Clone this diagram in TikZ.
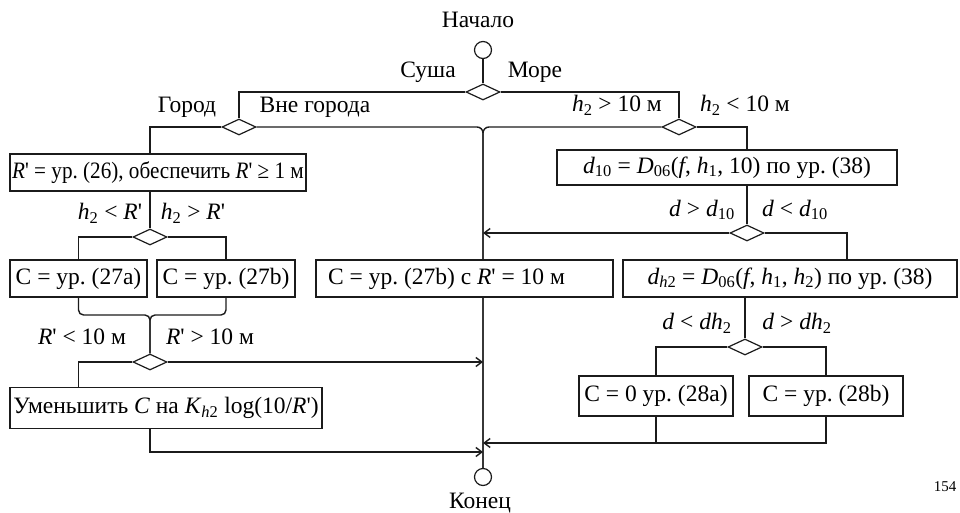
\documentclass[tikz,border=0pt]{standalone}
\usepackage{fontspec}
\setmainfont{Liberation Serif}
\usepackage{tikz}
\usetikzlibrary{positioning,arrows.meta,shapes.geometric,backgrounds}
\definecolor{cInk}{HTML}{1B1B1B}
\newcommand{\vr}[1]{\textit{#1}}
\newcommand{\ix}[1]{\textsubscript{#1}}
\newcommand{\Rpr}{\vr{R}\textquotesingle}
\frenchspacing
\tikzset{
  blk/.style={draw=cInk, line width=1.5pt, fill=white, minimum height=37pt,
              inner sep=2pt},
  dia/.style={diamond, draw=cInk, line width=1.2pt, fill=white, aspect=2,
              minimum width=34pt, minimum height=16pt, inner sep=0pt},
  term/.style={circle, draw=cInk, line width=1.2pt, fill=white,
               minimum size=17pt, inner sep=0pt},
  ln/.style={cInk, line width=1.4pt},
  ar/.style={ln, -{Straight Barb[length=6pt,width=9pt]}},
  lbl/.style={inner sep=1pt}
}

\begin{document}
\begin{tikzpicture}[x=1pt, y=-1pt, every node/.style={font=\fontsize{23.5}{26}\selectfont}]
\useasboundingbox (0,0) rectangle (960,513);
% start and first split
\node[term] (start) at (483,50) {};
\node (tstart) at (478,20) {Начало};
\node[dia] (ds) at (483,92) {};
\node[dia] (dg) at (239,127) {};
\node[dia] (dm) at (679,127) {};
% land, city branch
\node[blk, minimum width=296pt] (br) at (158,172.5)
  {\scalebox{0.9}[1]{\Rpr{} = ур. (26), обеспечить \Rpr{} ≥ 1 м}};
\node[dia] (dh) at (150,237) {};
\node[blk, minimum width=137pt] (b27a) at (78.5,278.5) {C = ур. (27a)};
\node[blk, minimum width=138pt] (b27b) at (226,278.5) {C = ур. (27b)};
\node[dia] (dr) at (150,362) {};
\node[blk, minimum width=312pt, minimum height=41pt] (bu) at (166,408)
  {Уменьшить \vr{C} на \vr{K}\ix{\vr{h}2} log(10/\Rpr)};
% outside city
\node[blk, minimum width=297pt] (b27c) at (464.5,278.5)
  {C = ур. (27b) с \Rpr{} = 10 м\kern36pt};
% sea branch
\node[blk, minimum width=340pt, minimum height=35pt] (b10) at (727,167.5)
  {\vr{d}\ix{10} = \vr{D}\ix{06}(\vr{f}, \vr{h}\ix{1}, 10) по ур. (38)};
\node[dia] (dd) at (747,233) {};
\node[blk, minimum width=334pt] (bh2) at (790,278.5)
  {\vr{d}\ix{\vr{h}2} = \vr{D}\ix{06}(\vr{f}, \vr{h}\ix{1}, \vr{h}\ix{2}) по ур. (38)};
\node[dia] (dq) at (745,347) {};
\node[blk, minimum width=154pt, minimum height=40pt] (b28a) at (656,396) {C = 0 ур. (28a)};
\node[blk, minimum width=154pt, minimum height=40pt] (b28b) at (826,396) {C = ур. (28b)};
% end
\node[term] (stop) at (483,477) {};
\node (tstop) at (480,503) {Конец};
\node[font=\fontsize{15}{17}\selectfont] (pg) at (945,487) {154};
% labels
\node[lbl] at (428,72) {Суша};
\node[lbl] at (535,72) {Море};
\node[lbl] at (187,107) {Город};
\node[lbl] at (315,107) {Вне города};
\node[lbl] at (617,105) {\vr{h}\ix{2} > 10 м};
\node[lbl] at (745,105) {\vr{h}\ix{2} < 10 м};
\node[lbl] at (110,213) {\vr{h}\ix{2} < \Rpr};
\node[lbl] at (193,213) {\vr{h}\ix{2} > \Rpr};
\node[lbl] at (702,210) {\vr{d} > \vr{d}\ix{10}};
\node[lbl] at (795,210) {\vr{d} < \vr{d}\ix{10}};
\node[lbl] at (82,337) {\Rpr{} < 10 м};
\node[lbl] at (210,337) {\Rpr{} > 10 м};
\node[lbl] at (697,323) {\vr{d} < \vr{dh}\ix{2}};
\node[lbl] at (797,323) {\vr{d} > \vr{dh}\ix{2}};
% joints
\coordinate (jr) at (150,315);
\coordinate (kd) at (847,260);
\coordinate (in1) at (483,233);
\coordinate (in2) at (483,362);
\coordinate (in4) at (483,443);
\coordinate (in3) at (483,452);
\begin{scope}[on background layer]
\draw[ln] (start) -- (ds);
\draw[ln] (ds.west) -| (dg.north);
\draw[ln] (ds.east) -| (dm.north);
\draw[ln, rounded corners=6pt] (dg.east) -| (stop.north);
\draw[ln, rounded corners=6pt] (dm.west) -| (stop.north);
\draw[ln] (dg.west) -| (dh.north |- br.north);
\draw[ln] (dh.north |- br.south) -- (dh.north);
\draw[ln] (dh.west) -| (b27a.north);
\draw[ln] (dh.east) -| (b27b.north);
\draw[ln, rounded corners=5pt] (b27a.south) |- (jr) -- (dr.north);
\draw[ln, rounded corners=5pt] (b27b.south) |- (jr) -- (dr.north);
\draw[ar] (dr.east) -- (in2);
\draw[ln] (dr.west) -| (b27a.south |- bu.north);
\draw[ar] (dr.south |- bu.south) |- (in3);
\draw[ln] (dm.east) -| (dd.north |- b10.north);
\draw[ln] (dd.north |- b10.south) -- (dd.north);
\draw[ar] (dd.west) -- (in1);
\draw[ln] (dd.east) -| (kd);
\draw[ln] (dq.north |- bh2.south) -- (dq.north);
\draw[ln] (dq.west) -| (b28a.north);
\draw[ln] (dq.east) -| (b28b.north);
\draw[ar] (b28b.south) |- (in4);
\draw[ln] (b28a.south) -- (b28a.south |- in4);
\end{scope}
\end{tikzpicture}
\end{document}
